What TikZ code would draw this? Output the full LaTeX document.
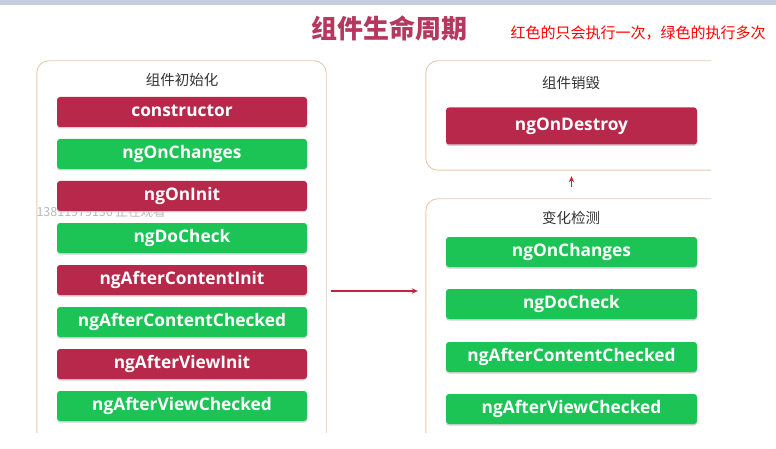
\documentclass[tikz,border=0pt]{standalone}
\usepackage{fontspec}
\setmainfont{Open Sans}
\newfontfamily\cjk{Noto Sans CJK SC}
\usetikzlibrary{shadows,arrows.meta}
\definecolor{boxred}{HTML}{B8284A}
\definecolor{boxgreen}{HTML}{1CC456}
\definecolor{framecol}{HTML}{E6C9AE}
\definecolor{titlecol}{HTML}{B5385E}
\definecolor{bandcol}{HTML}{C5CEDF}
\definecolor{arrowred}{HTML}{C0263E}
\definecolor{headcol}{HTML}{333333}
\begin{document}
\begin{tikzpicture}[x=1pt,y=-1pt,
  hook/.style={rounded corners=3pt, minimum height=30pt, text=white, inner sep=0pt,
    text height=12.5pt, text depth=3.5pt,
    font=\bfseries\fontsize{17.3}{20}\selectfont,
    drop shadow={shadow xshift=0pt,shadow yshift=-1.5pt,fill=black!22,opacity=0.8}},
  leftbox/.style={hook, minimum width=250pt},
  rightbox/.style={hook, minimum width=251pt},
  once/.style={fill=boxred},
  many/.style={fill=boxgreen},
  head/.style={text=headcol, font=\cjk\fontsize{14.5}{17}\selectfont},
  group/.style={draw=none, inner sep=0pt},
  frameline/.style={draw=framecol, line width=0.9pt, rounded corners=12pt},
  flow/.style={draw=arrowred, line width=1.3pt, -{Stealth[length=6pt,width=5.5pt]}}
]
\useasboundingbox (0,0) rectangle (776,449);
\fill[bandcol] (0,0) rectangle (776,5);

% title and note
\node[font=\cjk\bfseries\fontsize{26}{29}\selectfont, text=titlecol] (title) at (389,28) {组件生命周期};
\node[anchor=west, font=\cjk\fontsize{15}{18}\selectfont, text=red] (note) at (507,33) {红色的只会执行一次，绿色的执行多次};

% containers (named areas)
\node[group, minimum width=289pt, minimum height=390pt] (init) at (181.5,256) {};
\node[group, minimum width=304pt, minimum height=109pt] (destroy) at (578,115.5) {};
\node[group, minimum width=304pt, minimum height=261pt] (detect) at (578,329.5) {};

\begin{scope}
  \clip (0,0) rectangle (711,432);
  \draw[frameline] (init.north west) rectangle (init.south east);
  \draw[frameline] (destroy.north west) rectangle (destroy.south east);
  \draw[frameline] (detect.north west) rectangle (detect.south east);
\end{scope}

% watermark
\node[anchor=west, text=black!28, font=\cjk\fontsize{12.5}{14}\selectfont] (wm) at (33,212) {13811979136 正在观看};

% headings
\node[head] (hinit) at (182,80) {组件初始化};
\node[head] (hdestroy) at (571,83) {组件销毁};
\node[head] (hdetect) at (571,218) {变化检测};

% left hooks
\node[leftbox, once] (c1) at (182,112) {constructor};
\node[leftbox, many] (c2) at (182,154) {ngOnChanges};
\node[leftbox, once] (c3) at (182,196) {ngOnInit};
\node[leftbox, many] (c4) at (182,238) {ngDoCheck};
\node[leftbox, once] (c5) at (182,280) {ngAfterContentInit};
\node[leftbox, many] (c6) at (182,322) {ngAfterContentChecked};
\node[leftbox, once] (c7) at (182,364) {ngAfterViewInit};
\node[leftbox, many] (c8) at (182,406) {ngAfterViewChecked};

% destroy
\node[rightbox, once, minimum height=37pt] (d1) at (571.5,126) {ngOnDestroy};

% change detection
\node[rightbox, many] (r1) at (571.5,252) {ngOnChanges};
\node[rightbox, many] (r2) at (571.5,304) {ngDoCheck};
\node[rightbox, many] (r3) at (571.5,357) {ngAfterContentChecked};
\node[rightbox, many] (r4) at (571.5,409) {ngAfterViewChecked};

% connectors
\draw[flow] ([yshift=-35pt,xshift=5pt]init.east) -- ([yshift=-35pt,xshift=-8pt]init.east -| detect.west);
\draw[flow] ([yshift=12pt]detect.north -| d1.south) -- ([yshift=-6pt]d1.south |- destroy.south);
\end{tikzpicture}
\end{document}
